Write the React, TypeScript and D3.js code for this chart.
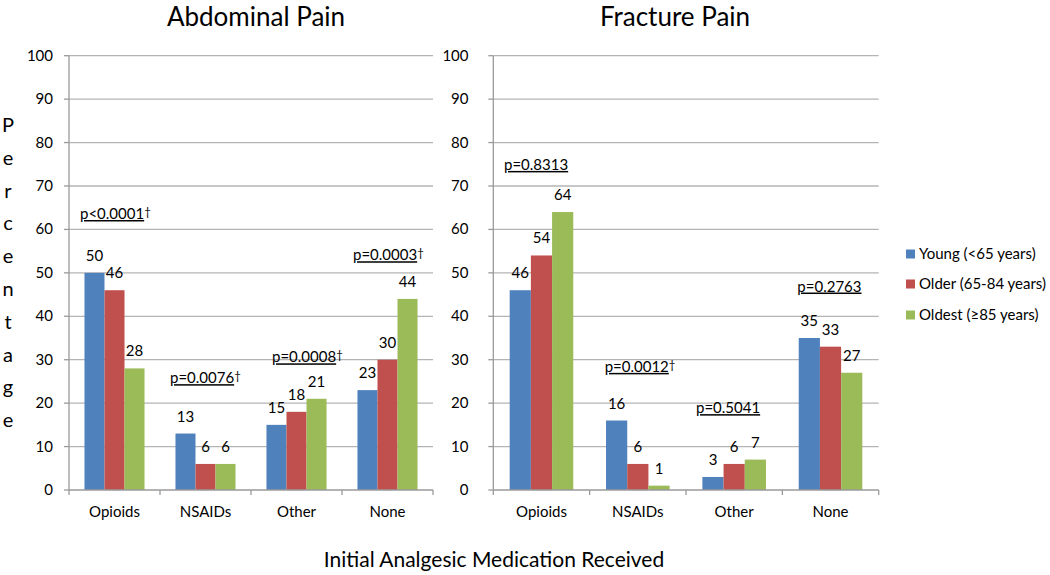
import React from "react";
import * as d3 from "d3";

const categories = ["Opioids", "NSAIDs", "Other", "None"];
const seriesNames = ["Young (<65 years)", "Older (65-84 years)", "Oldest (≥85 years)"];
const seriesColors = ["#4F81BD", "#C0504D", "#9BBB59"];

const abdominalYoung = [50, 13, 15, 23];
const abdominalOlder = [46, 6, 18, 30];
const abdominalOldest = [28, 6, 21, 44];

const fractureYoung = [46, 16, 3, 35];
const fractureOlder = [54, 6, 6, 33];
const fractureOldest = [64, 1, 7, 27];

const abdominalP = ["p<0.0001", "p=0.0076", "p=0.0008", "p=0.0003"];
const abdominalDagger = [true, true, true, true];
const fractureP = ["p=0.8313", "p=0.0012", "p=0.5041", "p=0.2763"];
const fractureDagger = [false, true, false, false];

const yTicks = [0, 10, 20, 30, 40, 50, 60, 70, 80, 90, 100];
const yLabelLetters = "Percentage".split("");

const FONT = "Lato, 'Open Sans', sans-serif";
const GRID = "#b4b4b4";
const AXIS = "#9a9a9a";
const FS = 15;

type PanelProps = {
  title: string;
  titleX: number;
  x0: number;
  x1: number;
  tickLabelRight: number;
  young: number[];
  older: number[];
  oldest: number[];
  pTexts: string[];
  pDagger: boolean[];
  pY: number[];
  pDx: number[];
  yScale: d3.ScaleLinear<number, number>;
};

function Panel(props: PanelProps) {
  const { title, titleX, x0, x1, tickLabelRight, young, older, oldest, pTexts, pDagger, pY, pDx, yScale } = props;
  const x = d3.scaleBand<string>().domain(categories).range([x0, x1]).padding(0);
  const bw = x.bandwidth();
  const inner = d3.scaleBand<number>().domain([0, 1, 2]).range([bw * 0.17, bw * 0.83]).padding(0);
  const series = [young, older, oldest];
  const [yBottom] = yScale.range();
  const boundaries = [...categories.map((c) => x(c) as number), x1];
  return (
    <g>
      <text x={titleX} y={26} textAnchor="middle" fontFamily={FONT} fontSize={26}>{title}</text>
      {yTicks.map((t) => (
        <g key={t}>
          {t > 0 && <line x1={x0} x2={x1} y1={yScale(t)} y2={yScale(t)} stroke={GRID} strokeWidth={1.3} />}
          <line x1={x0 - 5} x2={x0} y1={yScale(t)} y2={yScale(t)} stroke={AXIS} strokeWidth={1.3} />
          <text x={tickLabelRight} y={yScale(t) + 5} textAnchor="end" fontFamily={FONT} fontSize={FS}>{t}</text>
        </g>
      ))}
      {series.map((vals, si) =>
        vals.map((v, ci) => {
          const bx = (x(categories[ci]) as number) + (inner(si) as number);
          return (
            <g key={`${si}-${ci}`}>
              <rect x={bx} y={yScale(v)} width={inner.bandwidth()} height={yBottom - yScale(v)} fill={seriesColors[si]} />
              <text x={bx + inner.bandwidth() / 2} y={yScale(v) - 12} textAnchor="middle" fontFamily={FONT} fontSize={FS}>{v}</text>
            </g>
          );
        })
      )}
      <line x1={x0} x2={x0} y1={yScale(0)} y2={yScale(100)} stroke={AXIS} strokeWidth={1.3} />
      <line x1={x0} x2={x1} y1={yBottom} y2={yBottom} stroke={AXIS} strokeWidth={1.3} />
      {boundaries.map((b, i) => (
        <line key={i} x1={b} x2={b} y1={yBottom} y2={yBottom + 5} stroke={AXIS} strokeWidth={1.3} />
      ))}
      {categories.map((c) => (
        <text key={c} x={(x(c) as number) + bw / 2} y={517} textAnchor="middle" fontFamily={FONT} fontSize={FS}>{c}</text>
      ))}
      {pTexts.map((p, i) => (
        <text key={p} x={(x(categories[i]) as number) + pDx[i]} y={yScale(pY[i])} fontFamily={FONT} fontSize={FS}>
          <tspan textDecoration="underline">{p}</tspan>
          {pDagger[i] && <tspan fontSize={11.5} dy={-3}>†</tspan>}
        </text>
      ))}
    </g>
  );
}

export default function App() {
  const yScale = d3.scaleLinear().domain([0, 100]).range([490, 55.7]);
  const legendY = [254, 284, 315];
  return (
    <svg width={1050} height={575} style={{ display: "block", position: "absolute", left: 0, top: 0 }}>
      <rect width={1050} height={575} fill="#ffffff" />
      <Panel
        title="Abdominal Pain"
        titleX={256}
        x0={69}
        x1={433}
        tickLabelRight={53}
        young={abdominalYoung}
        older={abdominalOlder}
        oldest={abdominalOldest}
        pTexts={abdominalP}
        pDagger={abdominalDagger}
        pY={[62.4, 24.6, 29.4, 52.9]}
        pDx={[11, 10, 21, 11]}
        yScale={yScale}
      />
      <Panel
        title="Fracture Pain"
        titleX={675}
        x0={493.3}
        x1={878.7}
        tickLabelRight={468.5}
        young={fractureYoung}
        older={fractureOlder}
        oldest={fractureOldest}
        pTexts={fractureP}
        pDagger={fractureDagger}
        pY={[73.7, 27.2, 17.7, 45.7]}
        pDx={[10.7, 15, 10, 15]}
        yScale={yScale}
      />
      {yLabelLetters.map((l, i) => (
        <text key={i} x={8} y={132 + i * 32.8} textAnchor="middle" fontFamily={FONT} fontSize={20}>{l}</text>
      ))}
      <text x={494} y={567} textAnchor="middle" fontFamily={FONT} fontSize={21}>Initial Analgesic Medication Received</text>
      {seriesNames.map((s, i) => (
        <g key={s}>
          <rect x={906} y={legendY[i] - 4.5} width={9} height={9} fill={seriesColors[i]} />
          <text x={919} y={legendY[i] + 5} fontFamily={FONT} fontSize={FS}>{s}</text>
        </g>
      ))}
    </svg>
  );
}
